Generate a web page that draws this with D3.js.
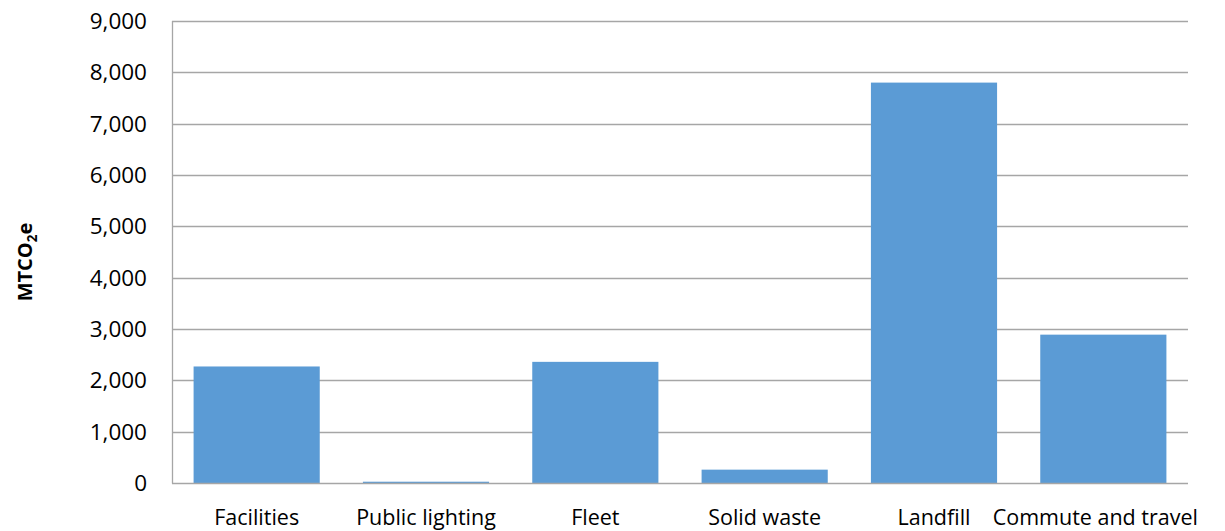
<!DOCTYPE html>
<html><head><meta charset="utf-8">
<script src="https://cdn.jsdelivr.net/npm/d3@7"></script>
<style>body{margin:0;background:#fff}svg{display:block}</style>
</head><body>
<svg id="c" width="1225" height="531"></svg>
<script>
const categories = ["Facilities","Public lighting","Fleet","Solid waste","Landfill","Commute and travel"];
const values = [2270, 25, 2360, 260, 7800, 2890];
const yTicks = [0,1000,2000,3000,4000,5000,6000,7000,8000,9000];

const svg = d3.select("#c");
const m = {left:172, right:1188, top:21, bottom:483};
const x = d3.scaleBand().domain(categories).range([m.left, m.right]).paddingInner(0.255).paddingOuter(0.1275);
const y = d3.scaleLinear().domain([0,9000]).range([m.bottom, m.top]);
const font = "'Open Sans', sans-serif";

// gridlines
svg.append("g").selectAll("line").data(yTicks.filter(d=>d>0)).join("line")
  .attr("x1", m.left).attr("x2", m.right)
  .attr("y1", d=>Math.round(y(d))+0.5).attr("y2", d=>Math.round(y(d))+0.5)
  .attr("stroke", "#a6a6a6").attr("stroke-width", 1.3);

// bars
svg.append("g").selectAll("rect").data(values).join("rect")
  .attr("x", (d,i)=>x(categories[i]))
  .attr("width", x.bandwidth())
  .attr("y", d=>y(d))
  .attr("height", d=>y(0)-y(d))
  .attr("fill", "#5b9bd5");

// axes lines
svg.append("line").attr("x1", m.left+0.5).attr("x2", m.left+0.5).attr("y1", m.top).attr("y2", m.bottom+0.5)
  .attr("stroke", "#a6a6a6").attr("stroke-width", 1.3);
svg.append("line").attr("x1", m.left).attr("x2", m.right).attr("y1", Math.round(y(0))+0.5).attr("y2", Math.round(y(0))+0.5)
  .attr("stroke", "#a6a6a6").attr("stroke-width", 1.3);

// y tick labels
const fmt = d3.format(",");
svg.append("g").selectAll("text").data(yTicks).join("text")
  .attr("x", 147).attr("y", d=>y(d)).attr("dy", "0.35em")
  .attr("text-anchor", "end").attr("font-family", font).attr("font-size", 22.5).attr("fill", "#000")
  .text(d=>fmt(d));

// x labels (kept inside the right edge, as the original does)
svg.append("g").selectAll("text").data(categories).join("text")
  .attr("y", 525)
  .attr("text-anchor", "middle").attr("font-family", font).attr("font-size", 21.5).attr("fill", "#000")
  .text(d=>d)
  .each(function(d){
    const w = this.getComputedTextLength();
    let cx = x(d)+x.bandwidth()/2;
    if (cx + w/2 > 1198) cx = 1198 - w/2;
    d3.select(this).attr("x", cx);
  });

// y title
const t = svg.append("text").attr("transform", "translate(32,262) rotate(-90)")
  .attr("text-anchor", "middle").attr("font-family", font).attr("font-size", 20).attr("font-weight", "bold").attr("fill", "#000");
t.append("tspan").text("MTCO");
t.append("tspan").attr("font-size", 13.5).attr("dy", 5).text("2");
t.append("tspan").attr("dy", -5).text("e");
</script>
</body></html>
